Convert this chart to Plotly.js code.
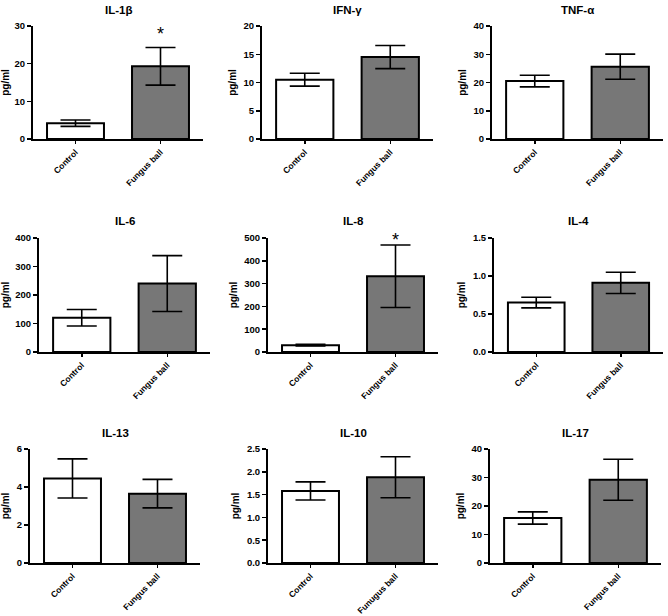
<!DOCTYPE html>
<html>
<head>
<meta charset="utf-8">
<script src="https://cdn.plot.ly/plotly-3.0.1.min.js"></script>
<style>html,body{margin:0;padding:0;background:#fff;}#chart{width:668px;height:616px;}</style>
</head>
<body>
<div id="chart"></div>
<script>
// ---- data ----
const cytokines = ['IL-1β', 'IFN-γ', 'TNF-α', 'IL-6', 'IL-8', 'IL-4', 'IL-13', 'IL-10', 'IL-17'];
const controlLabels = ['Control', 'Control', 'Control', 'Control', 'Control', 'Control', 'Control', 'Control', 'Control'];
const fungusLabels = ['Fungus ball', 'Fungus ball', 'Fungus ball', 'Fungus ball', 'Fungus ball', 'Fungus ball', 'Fungus ball', 'Funugus ball', 'Fungus ball'];
const controlMean = [4.2, 10.5, 20.5, 120, 30, 0.65, 4.45, 1.58, 15.8];
const controlErr  = [0.85, 1.15, 2.05, 29, 4, 0.07, 1.03, 0.2, 2.15];
const fungusMean  = [19.3, 14.5, 25.6, 240, 332, 0.91, 3.65, 1.88, 29.2];
const fungusErr   = [5.0, 2.05, 4.45, 98, 137, 0.14, 0.75, 0.45, 7.2];
const yMax   = [30, 20, 40, 400, 500, 1.5, 6, 2.5, 40];
const yDtick = [10, 5, 10, 100, 100, 0.5, 2, 0.5, 10];
const yFormat = ['', '', '', '', '', '.1f', '', '.1f', ''];
const significant = [true, false, false, false, true, false, false, false, false];
const starY = [27.8, 0, 0, 0, 492, 0, 0, 0, 0];
const yTitle = 'pg/ml';

// ---- layout geometry (pixels) ----
const W = 668, H = 616;
const panelX = [[33,203],[262,433],[492,663],[39,210],[268,438],[494,663],[30,200],[268,438],[490,661]];
const rowY = [[26,139],[238,352],[449,563]];
const titleY = [10, 221, 433];

const FONT = 'Arial, "Liberation Sans", sans-serif';
const traces = [];
const layout = {
  width: W, height: H,
  margin: {l:0, r:0, t:0, b:0},
  paper_bgcolor: '#fff', plot_bgcolor: '#fff',
  showlegend: false,
  font: {family: FONT, color: '#000'},
  annotations: []
};

for (let i = 0; i < cytokines.length; i++) {
  const n = i + 1;
  const xa = 'x' + (n === 1 ? '' : n), ya = 'y' + (n === 1 ? '' : n);
  const xk = 'xaxis' + (n === 1 ? '' : n), yk = 'yaxis' + (n === 1 ? '' : n);
  const r = Math.floor(i / 3);
  const [x0, x1] = panelX[i];
  const [yt, yb] = rowY[r];
  const cats = [controlLabels[i], fungusLabels[i]];
  traces.push({
    type: 'bar', x: cats, y: [controlMean[i], fungusMean[i]],
    xaxis: xa, yaxis: ya, width: 0.67,
    marker: {color: ['#ffffff', '#777777'], line: {color: '#000', width: 2}},
    error_y: {type: 'data', array: [controlErr[i], fungusErr[i]], visible: true,
              color: '#000', thickness: 1.6, width: 15},
    hoverinfo: 'none'
  });
  layout[xk] = {
    domain: [x0 / W, x1 / W], anchor: ya,
    type: 'category', range: [-0.5, 1.5],
    showline: true, linecolor: '#000', linewidth: 2,
    ticks: 'outside', ticklen: 3, tickwidth: 1.5, tickcolor: '#000',
    tickangle: -45, showgrid: false, zeroline: false,
    tickfont: {family: FONT, size: 8.5, weight: 'bold', color: '#000'}
  };
  layout[yk] = {
    domain: [1 - yb / H, 1 - yt / H], anchor: xa,
    range: [0, yMax[i]], dtick: yDtick[i], tick0: 0, tickformat: yFormat[i],
    showline: true, linecolor: '#000', linewidth: 2,
    ticks: 'outside', ticklen: 4, tickwidth: 1.5, tickcolor: '#000',
    showgrid: false, zeroline: false,
    tickfont: {family: FONT, size: 9.5, weight: 'bold', color: '#000'},
    title: {text: yTitle, font: {family: FONT, size: 10, weight: 'bold', color: '#000'}, standoff: 5}
  };
  layout.annotations.push({
    text: cytokines[i], xref: 'paper', yref: 'paper',
    x: ((x0 + x1) / 2) / W, y: 1 - titleY[r] / H,
    xanchor: 'center', yanchor: 'middle', showarrow: false,
    font: {family: FONT, size: 11.5, weight: 'bold', color: '#000'}
  });
  if (significant[i]) {
    layout.annotations.push({
      text: '*', xref: xa, yref: ya, x: fungusLabels[i], y: starY[i],
      xanchor: 'center', yanchor: 'middle', showarrow: false,
      font: {family: FONT, size: 18, color: '#000'}
    });
  }
}

Plotly.newPlot('chart', traces, layout, {staticPlot: true, displayModeBar: false});
</script>
</body>
</html>
